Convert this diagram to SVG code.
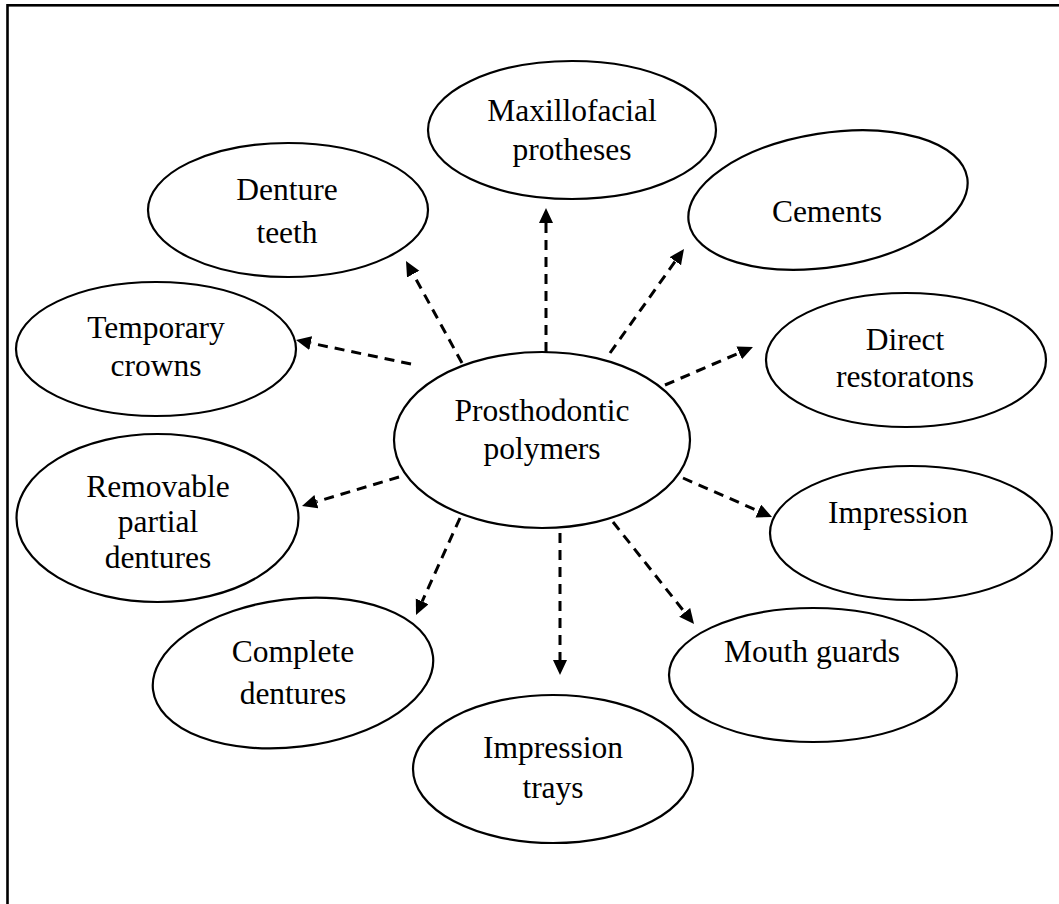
<svg xmlns="http://www.w3.org/2000/svg" width="1059" height="904" viewBox="0 0 1059 904">
<defs>
<style>
.node ellipse{fill:#fff;stroke:#000;stroke-width:2.2}
.node text{font-family:"Liberation Serif","Times New Roman",serif;font-size:31.5px;fill:#000;text-anchor:middle}
.conn line{stroke:#000;stroke-width:3;stroke-dasharray:10 7;fill:none;marker-end:url(#ah)}
</style>
<marker id="ah" markerUnits="userSpaceOnUse" markerWidth="16" markerHeight="16" refX="0" refY="7" orient="auto">
<path d="M0,0 L15,7 L0,14 Z" fill="#000"/>
</marker>
</defs>
<rect x="7.5" y="5.3" width="1100" height="1000" fill="#fff" stroke="#000" stroke-width="2.6"/>
<g id="connectors" class="conn">
<line x1="546" y1="352" x2="546" y2="223"/>
<line x1="462" y1="363" x2="413.2" y2="274.1"/>
<line x1="610" y1="353" x2="675.3" y2="261.2"/>
<line x1="411" y1="364" x2="310.7" y2="343.1"/>
<line x1="665" y1="385" x2="739.2" y2="352.9"/>
<line x1="399" y1="477" x2="316.4" y2="501.7"/>
<line x1="683" y1="478" x2="758.3" y2="511"/>
<line x1="460" y1="518" x2="422.2" y2="601.3"/>
<line x1="560" y1="533" x2="560" y2="660"/>
<line x1="613" y1="522" x2="684.7" y2="612.3"/>
</g>
<g id="n-center" class="node"><ellipse cx="542" cy="440" rx="148" ry="88"/><text x="542" y="421">Prosthodontic</text><text x="542" y="459">polymers</text></g>
<g id="n-maxillofacial" class="node"><ellipse cx="572" cy="130" rx="144" ry="69"/><text x="572" y="121">Maxillofacial</text><text x="572" y="160">protheses</text></g>
<g id="n-denture-teeth" class="node"><ellipse cx="288" cy="210" rx="140" ry="67"/><text x="287" y="200">Denture</text><text x="287" y="243">teeth</text></g>
<g id="n-cements" class="node"><ellipse cx="828" cy="200" rx="141" ry="67" transform="rotate(-9 828 200)"/><text x="827" y="222">Cements</text></g>
<g id="n-temporary" class="node"><ellipse cx="156" cy="349" rx="140" ry="67"/><text x="156" y="338">Temporary</text><text x="156" y="376">crowns</text></g>
<g id="n-direct" class="node"><ellipse cx="906" cy="360" rx="140" ry="67"/><text x="905" y="350">Direct</text><text x="905" y="387">restoratons</text></g>
<g id="n-removable" class="node"><ellipse cx="157.5" cy="518" rx="141" ry="84"/><text x="158" y="497">Removable</text><text x="158" y="532">partial</text><text x="158" y="568">dentures</text></g>
<g id="n-impression" class="node"><ellipse cx="911" cy="533" rx="141" ry="67"/><text x="898" y="523">Impression</text></g>
<g id="n-mouth" class="node"><ellipse cx="813" cy="675" rx="144" ry="67"/><text x="812" y="662">Mouth guards</text></g>
<g id="n-complete" class="node"><ellipse cx="293" cy="673" rx="141" ry="74" transform="rotate(-7 293 673)"/><text x="293" y="662">Complete</text><text x="293" y="704">dentures</text></g>
<g id="n-trays" class="node"><ellipse cx="553" cy="769" rx="140" ry="74"/><text x="553" y="758">Impression</text><text x="553" y="798">trays</text></g>
</svg>
